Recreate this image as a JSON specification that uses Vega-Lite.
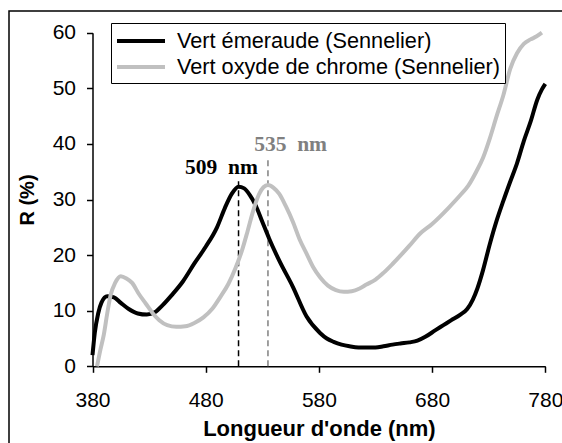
{
  "$schema": "https://vega.github.io/schema/vega-lite/v6.json",
  "autosize": "none",
  "padding": {"left": 9, "top": 11, "right": 0, "bottom": 0},
  "width": 560,
  "height": 440,
  "background": "white",
  "config": {
    "view": {"stroke": "black", "strokeWidth": 1.5, "fill": "white"},
    "axis": {
      "grid": false,
      "domainColor": "black",
      "domainWidth": 1.5,
      "tickColor": "black",
      "tickWidth": 1.5,
      "tickSize": 6,
      "labelFont": "Liberation Sans",
      "labelFontSize": 21,
      "labelColor": "black",
      "titleFont": "Liberation Sans",
      "titleFontWeight": "bold",
      "titleColor": "black",
      "labelOverlap": false
    }
  },
  "datasets": {
    "spectra": [
      {"nm": 380, "r": 2.0, "s": "Vert émeraude (Sennelier)"},
      {"nm": 382, "r": 6.0, "s": "Vert émeraude (Sennelier)"},
      {"nm": 385, "r": 9.5, "s": "Vert émeraude (Sennelier)"},
      {"nm": 388, "r": 11.5, "s": "Vert émeraude (Sennelier)"},
      {"nm": 393, "r": 12.6, "s": "Vert émeraude (Sennelier)"},
      {"nm": 399, "r": 12.4, "s": "Vert émeraude (Sennelier)"},
      {"nm": 405, "r": 11.4, "s": "Vert émeraude (Sennelier)"},
      {"nm": 412, "r": 10.3, "s": "Vert émeraude (Sennelier)"},
      {"nm": 420, "r": 9.5, "s": "Vert émeraude (Sennelier)"},
      {"nm": 428, "r": 9.3, "s": "Vert émeraude (Sennelier)"},
      {"nm": 435, "r": 9.7, "s": "Vert émeraude (Sennelier)"},
      {"nm": 442, "r": 11.0, "s": "Vert émeraude (Sennelier)"},
      {"nm": 450, "r": 12.8, "s": "Vert émeraude (Sennelier)"},
      {"nm": 460, "r": 15.3, "s": "Vert émeraude (Sennelier)"},
      {"nm": 470, "r": 18.5, "s": "Vert émeraude (Sennelier)"},
      {"nm": 480, "r": 21.5, "s": "Vert émeraude (Sennelier)"},
      {"nm": 490, "r": 25.0, "s": "Vert émeraude (Sennelier)"},
      {"nm": 497, "r": 28.5, "s": "Vert émeraude (Sennelier)"},
      {"nm": 503, "r": 31.0, "s": "Vert émeraude (Sennelier)"},
      {"nm": 509, "r": 32.3, "s": "Vert émeraude (Sennelier)"},
      {"nm": 514, "r": 32.0, "s": "Vert émeraude (Sennelier)"},
      {"nm": 519, "r": 30.8, "s": "Vert émeraude (Sennelier)"},
      {"nm": 524, "r": 29.0, "s": "Vert émeraude (Sennelier)"},
      {"nm": 530, "r": 26.0, "s": "Vert émeraude (Sennelier)"},
      {"nm": 536, "r": 23.0, "s": "Vert émeraude (Sennelier)"},
      {"nm": 545, "r": 19.0, "s": "Vert émeraude (Sennelier)"},
      {"nm": 557, "r": 14.3, "s": "Vert émeraude (Sennelier)"},
      {"nm": 569, "r": 9.0, "s": "Vert émeraude (Sennelier)"},
      {"nm": 581, "r": 6.0, "s": "Vert émeraude (Sennelier)"},
      {"nm": 587, "r": 5.0, "s": "Vert émeraude (Sennelier)"},
      {"nm": 593, "r": 4.4, "s": "Vert émeraude (Sennelier)"},
      {"nm": 600, "r": 3.9, "s": "Vert émeraude (Sennelier)"},
      {"nm": 607, "r": 3.6, "s": "Vert émeraude (Sennelier)"},
      {"nm": 615, "r": 3.4, "s": "Vert émeraude (Sennelier)"},
      {"nm": 622, "r": 3.4, "s": "Vert émeraude (Sennelier)"},
      {"nm": 630, "r": 3.4, "s": "Vert émeraude (Sennelier)"},
      {"nm": 637, "r": 3.6, "s": "Vert émeraude (Sennelier)"},
      {"nm": 645, "r": 3.9, "s": "Vert émeraude (Sennelier)"},
      {"nm": 652, "r": 4.1, "s": "Vert émeraude (Sennelier)"},
      {"nm": 660, "r": 4.3, "s": "Vert émeraude (Sennelier)"},
      {"nm": 667, "r": 4.6, "s": "Vert émeraude (Sennelier)"},
      {"nm": 674, "r": 5.3, "s": "Vert émeraude (Sennelier)"},
      {"nm": 683, "r": 6.5, "s": "Vert émeraude (Sennelier)"},
      {"nm": 690, "r": 7.4, "s": "Vert émeraude (Sennelier)"},
      {"nm": 697, "r": 8.3, "s": "Vert émeraude (Sennelier)"},
      {"nm": 705, "r": 9.3, "s": "Vert émeraude (Sennelier)"},
      {"nm": 711, "r": 10.3, "s": "Vert émeraude (Sennelier)"},
      {"nm": 716, "r": 12.0, "s": "Vert émeraude (Sennelier)"},
      {"nm": 720, "r": 14.0, "s": "Vert émeraude (Sennelier)"},
      {"nm": 725, "r": 17.3, "s": "Vert émeraude (Sennelier)"},
      {"nm": 731, "r": 22.0, "s": "Vert émeraude (Sennelier)"},
      {"nm": 737, "r": 26.2, "s": "Vert émeraude (Sennelier)"},
      {"nm": 743, "r": 29.8, "s": "Vert émeraude (Sennelier)"},
      {"nm": 749, "r": 33.2, "s": "Vert émeraude (Sennelier)"},
      {"nm": 755, "r": 36.5, "s": "Vert émeraude (Sennelier)"},
      {"nm": 761, "r": 40.5, "s": "Vert émeraude (Sennelier)"},
      {"nm": 767, "r": 44.0, "s": "Vert émeraude (Sennelier)"},
      {"nm": 773, "r": 48.0, "s": "Vert émeraude (Sennelier)"},
      {"nm": 777, "r": 49.8, "s": "Vert émeraude (Sennelier)"},
      {"nm": 780, "r": 50.8, "s": "Vert émeraude (Sennelier)"},
      {"nm": 384, "r": 0.0, "s": "Vert oxyde de chrome (Sennelier)"},
      {"nm": 387, "r": 3.0, "s": "Vert oxyde de chrome (Sennelier)"},
      {"nm": 390, "r": 5.7, "s": "Vert oxyde de chrome (Sennelier)"},
      {"nm": 393, "r": 9.5, "s": "Vert oxyde de chrome (Sennelier)"},
      {"nm": 396, "r": 12.8, "s": "Vert oxyde de chrome (Sennelier)"},
      {"nm": 400, "r": 15.0, "s": "Vert oxyde de chrome (Sennelier)"},
      {"nm": 405, "r": 16.2, "s": "Vert oxyde de chrome (Sennelier)"},
      {"nm": 410, "r": 15.8, "s": "Vert oxyde de chrome (Sennelier)"},
      {"nm": 415, "r": 15.0, "s": "Vert oxyde de chrome (Sennelier)"},
      {"nm": 421, "r": 13.0, "s": "Vert oxyde de chrome (Sennelier)"},
      {"nm": 427, "r": 11.3, "s": "Vert oxyde de chrome (Sennelier)"},
      {"nm": 433, "r": 9.6, "s": "Vert oxyde de chrome (Sennelier)"},
      {"nm": 439, "r": 8.3, "s": "Vert oxyde de chrome (Sennelier)"},
      {"nm": 446, "r": 7.4, "s": "Vert oxyde de chrome (Sennelier)"},
      {"nm": 454, "r": 7.1, "s": "Vert oxyde de chrome (Sennelier)"},
      {"nm": 462, "r": 7.2, "s": "Vert oxyde de chrome (Sennelier)"},
      {"nm": 470, "r": 7.8, "s": "Vert oxyde de chrome (Sennelier)"},
      {"nm": 478, "r": 8.8, "s": "Vert oxyde de chrome (Sennelier)"},
      {"nm": 486, "r": 10.4, "s": "Vert oxyde de chrome (Sennelier)"},
      {"nm": 493, "r": 12.5, "s": "Vert oxyde de chrome (Sennelier)"},
      {"nm": 500, "r": 14.8, "s": "Vert oxyde de chrome (Sennelier)"},
      {"nm": 506, "r": 17.5, "s": "Vert oxyde de chrome (Sennelier)"},
      {"nm": 512, "r": 20.8, "s": "Vert oxyde de chrome (Sennelier)"},
      {"nm": 517, "r": 24.3, "s": "Vert oxyde de chrome (Sennelier)"},
      {"nm": 522, "r": 28.0, "s": "Vert oxyde de chrome (Sennelier)"},
      {"nm": 527, "r": 30.9, "s": "Vert oxyde de chrome (Sennelier)"},
      {"nm": 531, "r": 32.2, "s": "Vert oxyde de chrome (Sennelier)"},
      {"nm": 535, "r": 32.6, "s": "Vert oxyde de chrome (Sennelier)"},
      {"nm": 540, "r": 32.1, "s": "Vert oxyde de chrome (Sennelier)"},
      {"nm": 545, "r": 31.0, "s": "Vert oxyde de chrome (Sennelier)"},
      {"nm": 551, "r": 28.7, "s": "Vert oxyde de chrome (Sennelier)"},
      {"nm": 557, "r": 26.0, "s": "Vert oxyde de chrome (Sennelier)"},
      {"nm": 563, "r": 22.8, "s": "Vert oxyde de chrome (Sennelier)"},
      {"nm": 569, "r": 20.3, "s": "Vert oxyde de chrome (Sennelier)"},
      {"nm": 575, "r": 17.8, "s": "Vert oxyde de chrome (Sennelier)"},
      {"nm": 581, "r": 16.0, "s": "Vert oxyde de chrome (Sennelier)"},
      {"nm": 588, "r": 14.5, "s": "Vert oxyde de chrome (Sennelier)"},
      {"nm": 595, "r": 13.7, "s": "Vert oxyde de chrome (Sennelier)"},
      {"nm": 602, "r": 13.4, "s": "Vert oxyde de chrome (Sennelier)"},
      {"nm": 609, "r": 13.5, "s": "Vert oxyde de chrome (Sennelier)"},
      {"nm": 616, "r": 14.0, "s": "Vert oxyde de chrome (Sennelier)"},
      {"nm": 622, "r": 14.7, "s": "Vert oxyde de chrome (Sennelier)"},
      {"nm": 630, "r": 15.6, "s": "Vert oxyde de chrome (Sennelier)"},
      {"nm": 637, "r": 16.8, "s": "Vert oxyde de chrome (Sennelier)"},
      {"nm": 645, "r": 18.4, "s": "Vert oxyde de chrome (Sennelier)"},
      {"nm": 652, "r": 19.9, "s": "Vert oxyde de chrome (Sennelier)"},
      {"nm": 660, "r": 21.7, "s": "Vert oxyde de chrome (Sennelier)"},
      {"nm": 669, "r": 23.8, "s": "Vert oxyde de chrome (Sennelier)"},
      {"nm": 680, "r": 25.6, "s": "Vert oxyde de chrome (Sennelier)"},
      {"nm": 695, "r": 28.6, "s": "Vert oxyde de chrome (Sennelier)"},
      {"nm": 705, "r": 30.8, "s": "Vert oxyde de chrome (Sennelier)"},
      {"nm": 712, "r": 32.5, "s": "Vert oxyde de chrome (Sennelier)"},
      {"nm": 719, "r": 35.0, "s": "Vert oxyde de chrome (Sennelier)"},
      {"nm": 725, "r": 37.5, "s": "Vert oxyde de chrome (Sennelier)"},
      {"nm": 731, "r": 41.0, "s": "Vert oxyde de chrome (Sennelier)"},
      {"nm": 737, "r": 45.0, "s": "Vert oxyde de chrome (Sennelier)"},
      {"nm": 743, "r": 48.8, "s": "Vert oxyde de chrome (Sennelier)"},
      {"nm": 749, "r": 53.5, "s": "Vert oxyde de chrome (Sennelier)"},
      {"nm": 755, "r": 56.3, "s": "Vert oxyde de chrome (Sennelier)"},
      {"nm": 761, "r": 58.0, "s": "Vert oxyde de chrome (Sennelier)"},
      {"nm": 767, "r": 58.8, "s": "Vert oxyde de chrome (Sennelier)"},
      {"nm": 772, "r": 59.3, "s": "Vert oxyde de chrome (Sennelier)"},
      {"nm": 777, "r": 60.0, "s": "Vert oxyde de chrome (Sennelier)"}
    ]
  },
  "layer": [
    {
      "data": {"values": [{"nm": 509, "r0": 0, "r1": 33.3}]},
      "mark": {"type": "rule", "color": "black", "strokeWidth": 1.5, "strokeDash": [6, 4]},
      "encoding": {
        "x": {"field": "nm", "type": "quantitative"},
        "y": {"field": "r0", "type": "quantitative"},
        "y2": {"field": "r1"}
      }
    },
    {
      "data": {"values": [{"nm": 535, "r0": 0, "r1": 37.5}]},
      "mark": {"type": "rule", "color": "#808080", "strokeWidth": 1.5, "strokeDash": [6, 4]},
      "encoding": {
        "x": {"field": "nm", "type": "quantitative"},
        "y": {"field": "r0", "type": "quantitative"},
        "y2": {"field": "r1"}
      }
    },
    {
      "data": {"name": "spectra"},
      "transform": [{"filter": "datum.s === 'Vert émeraude (Sennelier)'"}],
      "mark": {"type": "line", "strokeWidth": 4, "interpolate": "monotone"},
      "encoding": {
        "x": {
          "field": "nm", "type": "quantitative",
          "scale": {"domain": [380, 780], "range": [83.5, 536.3], "nice": false, "zero": false},
          "axis": {
            "title": "Longueur d'onde (nm)",
            "titleFontSize": 22,
            "values": [380, 480, 580, 680, 780],
            "offset": -84.7,
            "labelPadding": 17,
            "titlePadding": 8,
            "labelFlush": false
          }
        },
        "y": {
          "field": "r", "type": "quantitative",
          "scale": {"domain": [0, 60], "range": [355.3, 21.7], "nice": false, "zero": true},
          "axis": {
            "title": "R (%)",
            "titleFontSize": 20,
            "values": [0, 10, 20, 30, 40, 50, 60],
            "offset": -83.5,
            "labelPadding": 11,
            "titlePadding": 15
          }
        },
        "color": {
          "field": "s", "type": "nominal",
          "scale": {
            "domain": ["Vert émeraude (Sennelier)", "Vert oxyde de chrome (Sennelier)"],
            "range": ["black", "#c0c0c0"]
          },
          "legend": {
            "title": null,
            "orient": "none",
            "legendX": 102,
            "legendY": 12,
            "padding": 4,
            "strokeColor": "black",
            "fillColor": "white",
            "symbolType": "M-1,0H3",
            "symbolSize": 576,
            "symbolStrokeWidth": 4,
            "labelOffset": 34,
            "labelFont": "Liberation Sans",
            "labelFontSize": 21.7,
            "labelColor": "black",
            "rowPadding": 0,
            "labelLimit": 400
          }
        }
      }
    },
    {
      "data": {"name": "spectra"},
      "transform": [{"filter": "datum.s === 'Vert oxyde de chrome (Sennelier)'"}],
      "mark": {"type": "line", "strokeWidth": 4, "interpolate": "monotone"},
      "encoding": {
        "x": {"field": "nm", "type": "quantitative"},
        "y": {"field": "r", "type": "quantitative"},
        "color": {"field": "s", "type": "nominal"}
      }
    },
    {
      "data": {"values": [{"nm": 494, "r": 34.5, "label": "509\u00a0 nm"}]},
      "mark": {"type": "text", "font": "Liberation Serif", "fontWeight": "bold", "fontSize": 21.5, "color": "black", "align": "center", "baseline": "alphabetic"},
      "encoding": {
        "x": {"field": "nm", "type": "quantitative"},
        "y": {"field": "r", "type": "quantitative"},
        "text": {"field": "label"}
      }
    },
    {
      "data": {"values": [{"nm": 555, "r": 38.8, "label": "535\u00a0 nm"}]},
      "mark": {"type": "text", "font": "Liberation Serif", "fontWeight": "bold", "fontSize": 21.5, "color": "#808080", "align": "center", "baseline": "alphabetic"},
      "encoding": {
        "x": {"field": "nm", "type": "quantitative"},
        "y": {"field": "r", "type": "quantitative"},
        "text": {"field": "label"}
      }
    }
  ]
}
